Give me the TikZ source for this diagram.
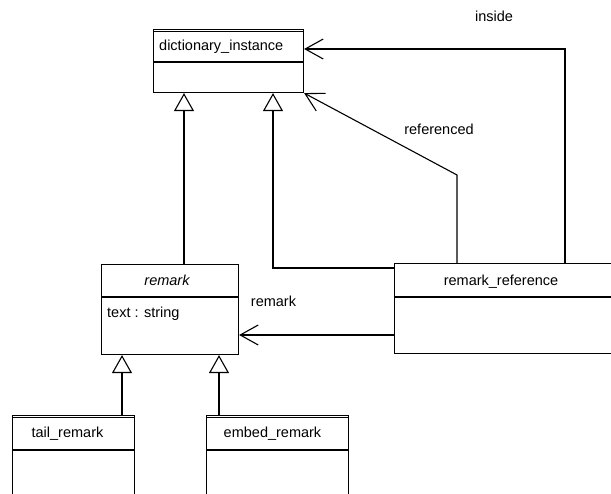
\documentclass[tikz,border=0pt]{standalone}
\usepackage{fontspec}
\setmainfont{Liberation Sans}
\usetikzlibrary{arrows.meta,calc}
\begin{document}
\begin{tikzpicture}[x=1pt,y=-1pt,
  cls/.style={draw,rectangle,anchor=north west,inner sep=0pt,line width=1.1pt},
  lbl/.style={inner sep=0pt,anchor=base,font=\fontsize{14.5}{17}\selectfont},
  sep/.style={line width=1.1pt},
  gen/.style={line width=1.1pt,-{Triangle[open,length=18pt,width=20pt,fill=white]}},
  assoc/.style={line width=1.1pt,-{Straight Barb[length=18pt,width=20pt]}}]
\clip (0,0) rectangle (611,494);
\fill[white] (0,0) rectangle (611,494);
% class boxes
\node[cls,minimum width=150pt,minimum height=63pt] (di) at (153,29) {};
\node[cls,minimum width=137pt,minimum height=90pt] (remark) at (101,264) {};
\node[cls,minimum width=250pt,minimum height=90pt] (rr) at (394,263) {};
\node[cls,minimum width=122pt,minimum height=100pt] (tail) at (12,415) {};
\node[cls,minimum width=142pt,minimum height=100pt] (embed) at (206,415) {};
% double top lines
\draw[sep] ($(di.north west)+(0,2.6)$) -- ($(di.north east)+(0,2.6)$);
\draw[sep] ($(tail.north west)+(0,2.6)$) -- ($(tail.north east)+(0,2.6)$);
\draw[sep] ($(embed.north west)+(0,2.6)$) -- ($(embed.north east)+(0,2.6)$);
% dividers
\draw[sep] ($(di.north west)+(0,33)$) -- ($(di.north east)+(0,33)$);
\draw[sep] ($(remark.north west)+(0,33)$) -- ($(remark.north east)+(0,33)$);
\draw[sep] ($(rr.north west)+(0,34)$) -- ($(rr.north east)+(0,34)$);
\draw[sep] ($(tail.north west)+(0,35)$) -- ($(tail.north east)+(0,35)$);
\draw[sep] ($(embed.north west)+(0,35)$) -- ($(embed.north east)+(0,35)$);
% texts
\node[lbl,anchor=base west] (tdi) at (159,51) {dictionary\_instance};
\node[lbl] (trr) at (501,286) {remark\_reference};
\node[lbl] (trem) at (167,286) {\itshape remark};
\node[lbl,anchor=base west] (tattr) at (107,318) {text : string};
\node[lbl] (ttail) at (67.5,437.5) {tail\_remark};
\node[lbl] (temb) at (272.5,437.5) {embed\_remark};
\node[lbl] (linside) at (494,22) {inside};
\node[lbl] (lref) at (439,135) {referenced};
\node[lbl] (lrem) at (273.5,306.5) {remark};
% connectors
\coordinate (bend) at ($(rr.north west)+(63,-88)$);
\draw[gen] ($(remark.north west)+(83,0)$) -- ($(di.south west)+(31,0)$);
\draw[gen] ($(rr.north west)+(0,5)$) -| ($(di.south west)+(120,0)$);
\draw[assoc] ($(rr.north west)+(63,0)$) -- (bend) -- (di.south east);
\draw[assoc] ($(rr.north west)+(171,0)$) |- ($(di.north east)+(0,20)$);
\draw[assoc] ($(rr.north west)+(0,72)$) -- ($(remark.north east)+(0,71)$);
\draw[gen] ($(tail.north west)+(110,0)$) -- ($(remark.south west)+(21,0)$);
\draw[gen] ($(embed.north west)+(13,0)$) -- ($(remark.south west)+(118,0)$);
\end{tikzpicture}
\end{document}
